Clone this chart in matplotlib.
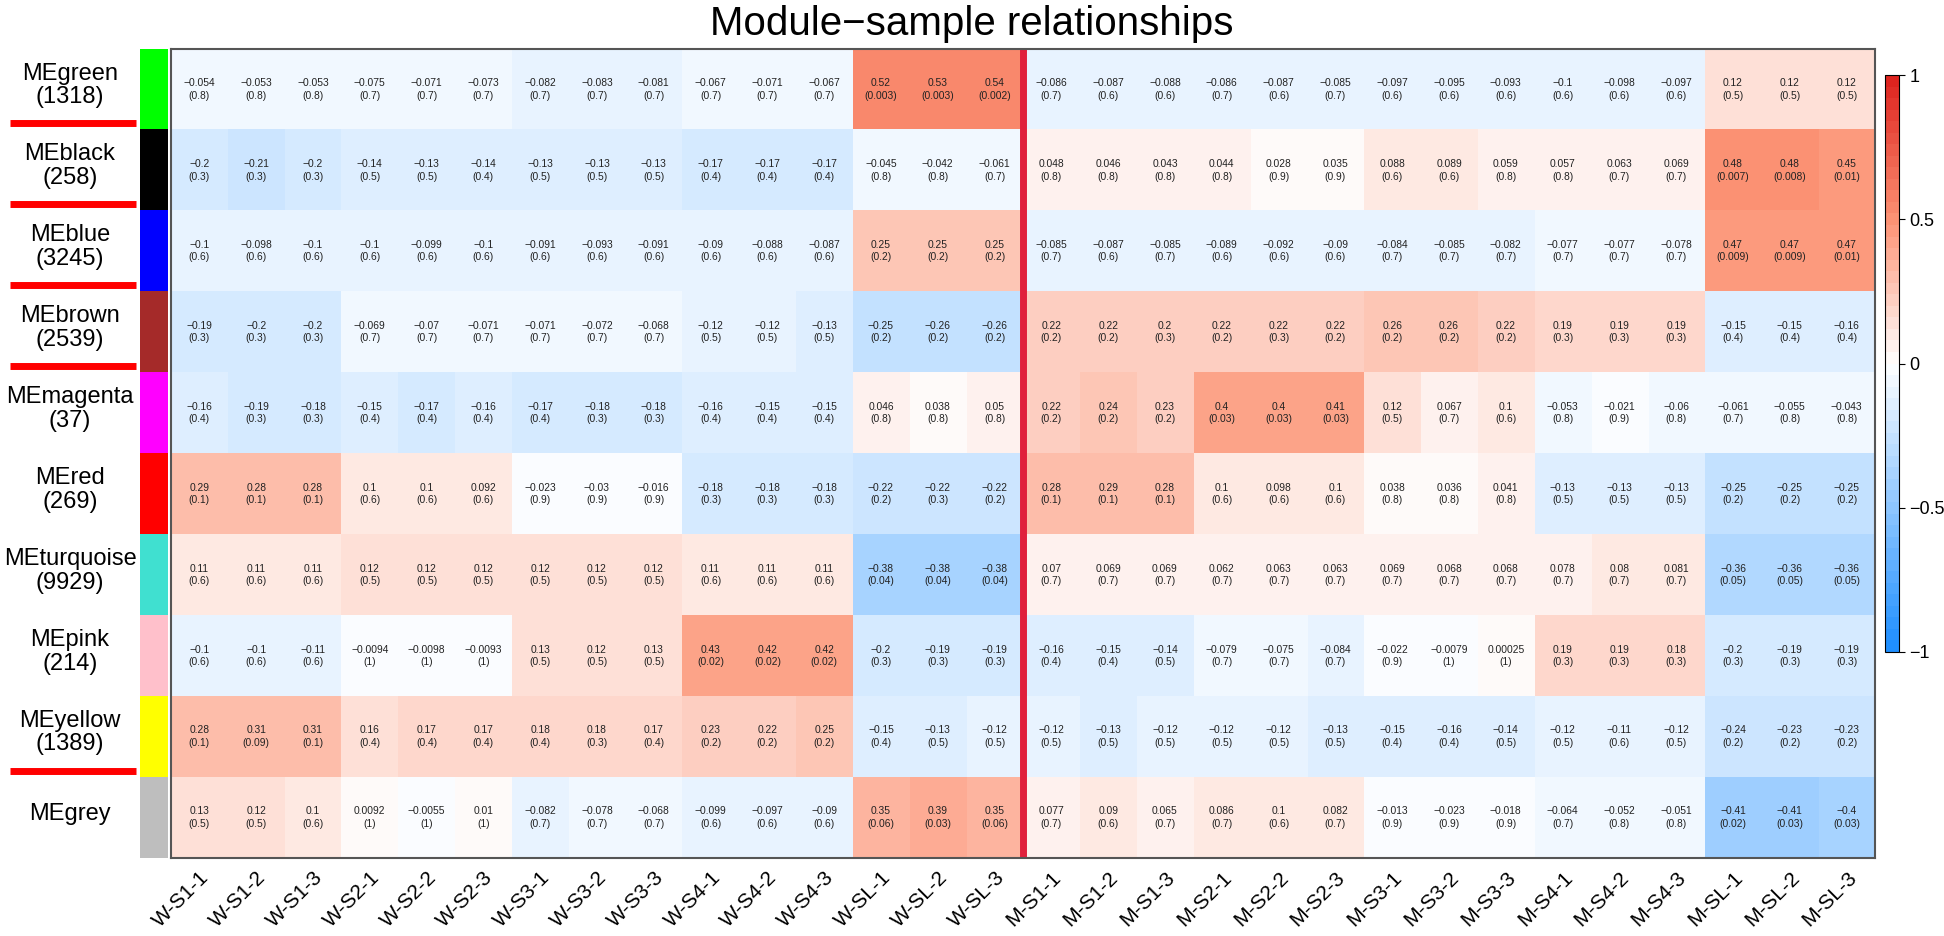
import numpy as np
import matplotlib.pyplot as plt
from matplotlib.colors import LinearSegmentedColormap

plt.rcParams['font.family'] = ['Liberation Sans', 'DejaVu Sans']

# samples (columns)
samples = ["W-S1-1", "W-S1-2", "W-S1-3", "W-S2-1", "W-S2-2", "W-S2-3",
           "W-S3-1", "W-S3-2", "W-S3-3", "W-S4-1", "W-S4-2", "W-S4-3",
           "W-SL-1", "W-SL-2", "W-SL-3", "M-S1-1", "M-S1-2", "M-S1-3",
           "M-S2-1", "M-S2-2", "M-S2-3", "M-S3-1", "M-S3-2", "M-S3-3",
           "M-S4-1", "M-S4-2", "M-S4-3", "M-SL-1", "M-SL-2", "M-SL-3"]

# modules (rows)
modules = ["MEgreen", "MEblack", "MEblue", "MEbrown", "MEmagenta",
           "MEred", "MEturquoise", "MEpink", "MEyellow", "MEgrey"]
module_colors = ["#00FF00", "#000000", "#0000FF", "#A52A2A", "#FF00FF",
                 "#FF0000", "#40E0D0", "#FFC0CB", "#FFFF00", "#BEBEBE"]
module_sizes = ["1318", "258", "3245", "2539", "37", "269", "9929", "214", "1389", ""]
underlined = ["MEgreen", "MEblack", "MEblue", "MEbrown", "MEyellow"]

# correlations and p-values, one list per module
cor_green = [-0.054, -0.053, -0.053, -0.075, -0.071, -0.073, -0.082, -0.083, -0.081, -0.067, -0.071, -0.067,
             0.52, 0.53, 0.54, -0.086, -0.087, -0.088, -0.086, -0.087, -0.085, -0.097, -0.095, -0.093,
             -0.1, -0.098, -0.097, 0.12, 0.12, 0.12]
p_green = [0.8, 0.8, 0.8, 0.7, 0.7, 0.7, 0.7, 0.7, 0.7, 0.7, 0.7, 0.7,
           0.003, 0.003, 0.002, 0.7, 0.6, 0.6, 0.7, 0.6, 0.7, 0.6, 0.6, 0.6,
           0.6, 0.6, 0.6, 0.5, 0.5, 0.5]

cor_black = [-0.2, -0.21, -0.2, -0.14, -0.13, -0.14, -0.13, -0.13, -0.13, -0.17, -0.17, -0.17,
             -0.045, -0.042, -0.061, 0.048, 0.046, 0.043, 0.044, 0.028, 0.035, 0.088, 0.089, 0.059,
             0.057, 0.063, 0.069, 0.48, 0.48, 0.45]
p_black = [0.3, 0.3, 0.3, 0.5, 0.5, 0.4, 0.5, 0.5, 0.5, 0.4, 0.4, 0.4,
           0.8, 0.8, 0.7, 0.8, 0.8, 0.8, 0.8, 0.9, 0.9, 0.6, 0.6, 0.8,
           0.8, 0.7, 0.7, 0.007, 0.008, 0.01]

cor_blue = [-0.1, -0.098, -0.1, -0.1, -0.099, -0.1, -0.091, -0.093, -0.091, -0.09, -0.088, -0.087,
            0.25, 0.25, 0.25, -0.085, -0.087, -0.085, -0.089, -0.092, -0.09, -0.084, -0.085, -0.082,
            -0.077, -0.077, -0.078, 0.47, 0.47, 0.47]
p_blue = [0.6, 0.6, 0.6, 0.6, 0.6, 0.6, 0.6, 0.6, 0.6, 0.6, 0.6, 0.6,
          0.2, 0.2, 0.2, 0.7, 0.6, 0.7, 0.6, 0.6, 0.6, 0.7, 0.7, 0.7,
          0.7, 0.7, 0.7, 0.009, 0.009, 0.01]

cor_brown = [-0.19, -0.2, -0.2, -0.069, -0.07, -0.071, -0.071, -0.072, -0.068, -0.12, -0.12, -0.13,
             -0.25, -0.26, -0.26, 0.22, 0.22, 0.2, 0.22, 0.22, 0.22, 0.26, 0.26, 0.22,
             0.19, 0.19, 0.19, -0.15, -0.15, -0.16]
p_brown = [0.3, 0.3, 0.3, 0.7, 0.7, 0.7, 0.7, 0.7, 0.7, 0.5, 0.5, 0.5,
           0.2, 0.2, 0.2, 0.2, 0.2, 0.3, 0.2, 0.3, 0.2, 0.2, 0.2, 0.2,
           0.3, 0.3, 0.3, 0.4, 0.4, 0.4]

cor_magenta = [-0.16, -0.19, -0.18, -0.15, -0.17, -0.16, -0.17, -0.18, -0.18, -0.16, -0.15, -0.15,
               0.046, 0.038, 0.05, 0.22, 0.24, 0.23, 0.4, 0.4, 0.41, 0.12, 0.067, 0.1,
               -0.053, -0.021, -0.06, -0.061, -0.055, -0.043]
p_magenta = [0.4, 0.3, 0.3, 0.4, 0.4, 0.4, 0.4, 0.3, 0.3, 0.4, 0.4, 0.4,
             0.8, 0.8, 0.8, 0.2, 0.2, 0.2, 0.03, 0.03, 0.03, 0.5, 0.7, 0.6,
             0.8, 0.9, 0.8, 0.7, 0.8, 0.8]

cor_red = [0.29, 0.28, 0.28, 0.1, 0.1, 0.092, -0.023, -0.03, -0.016, -0.18, -0.18, -0.18,
           -0.22, -0.22, -0.22, 0.28, 0.29, 0.28, 0.1, 0.098, 0.1, 0.038, 0.036, 0.041,
           -0.13, -0.13, -0.13, -0.25, -0.25, -0.25]
p_red = [0.1, 0.1, 0.1, 0.6, 0.6, 0.6, 0.9, 0.9, 0.9, 0.3, 0.3, 0.3,
         0.2, 0.3, 0.2, 0.1, 0.1, 0.1, 0.6, 0.6, 0.6, 0.8, 0.8, 0.8,
         0.5, 0.5, 0.5, 0.2, 0.2, 0.2]

cor_turquoise = [0.11, 0.11, 0.11, 0.12, 0.12, 0.12, 0.12, 0.12, 0.12, 0.11, 0.11, 0.11,
                 -0.38, -0.38, -0.38, 0.07, 0.069, 0.069, 0.062, 0.063, 0.063, 0.069, 0.068, 0.068,
                 0.078, 0.08, 0.081, -0.36, -0.36, -0.36]
p_turquoise = [0.6, 0.6, 0.6, 0.5, 0.5, 0.5, 0.5, 0.5, 0.5, 0.6, 0.6, 0.6,
               0.04, 0.04, 0.04, 0.7, 0.7, 0.7, 0.7, 0.7, 0.7, 0.7, 0.7, 0.7,
               0.7, 0.7, 0.7, 0.05, 0.05, 0.05]

cor_pink = [-0.1, -0.1, -0.11, -0.0094, -0.0098, -0.0093, 0.13, 0.12, 0.13, 0.43, 0.42, 0.42,
            -0.2, -0.19, -0.19, -0.16, -0.15, -0.14, -0.079, -0.075, -0.084, -0.022, -0.0079, 0.00025,
            0.19, 0.19, 0.18, -0.2, -0.19, -0.19]
p_pink = [0.6, 0.6, 0.6, 1, 1, 1, 0.5, 0.5, 0.5, 0.02, 0.02, 0.02,
          0.3, 0.3, 0.3, 0.4, 0.4, 0.5, 0.7, 0.7, 0.7, 0.9, 1, 1,
          0.3, 0.3, 0.3, 0.3, 0.3, 0.3]

cor_yellow = [0.28, 0.31, 0.31, 0.16, 0.17, 0.17, 0.18, 0.18, 0.17, 0.23, 0.22, 0.25,
              -0.15, -0.13, -0.12, -0.12, -0.13, -0.12, -0.12, -0.12, -0.13, -0.15, -0.16, -0.14,
              -0.12, -0.11, -0.12, -0.24, -0.23, -0.23]
p_yellow = [0.1, 0.09, 0.1, 0.4, 0.4, 0.4, 0.4, 0.3, 0.4, 0.2, 0.2, 0.2,
            0.4, 0.5, 0.5, 0.5, 0.5, 0.5, 0.5, 0.5, 0.5, 0.4, 0.4, 0.5,
            0.5, 0.6, 0.5, 0.2, 0.2, 0.2]

cor_grey = [0.13, 0.12, 0.1, 0.0092, -0.0055, 0.01, -0.082, -0.078, -0.068, -0.099, -0.097, -0.09,
            0.35, 0.39, 0.35, 0.077, 0.09, 0.065, 0.086, 0.1, 0.082, -0.013, -0.023, -0.018,
            -0.064, -0.052, -0.051, -0.41, -0.41, -0.4]
p_grey = [0.5, 0.5, 0.6, 1, 1, 1, 0.7, 0.7, 0.7, 0.6, 0.6, 0.6,
          0.06, 0.03, 0.06, 0.7, 0.6, 0.7, 0.7, 0.6, 0.7, 0.9, 0.9, 0.9,
          0.7, 0.8, 0.8, 0.02, 0.03, 0.03]

cor = np.array([cor_green, cor_black, cor_blue, cor_brown, cor_magenta,
                cor_red, cor_turquoise, cor_pink, cor_yellow, cor_grey])
pval = np.array([p_green, p_black, p_blue, p_brown, p_magenta,
                 p_red, p_turquoise, p_pink, p_yellow, p_grey])


def fmt(v):
    return format(v, ".2g").replace("-", "\u2212")


# blue - white - red scale
cmap = LinearSegmentedColormap.from_list(
    "bwr_mod",
    [(0.0, (0.12, 0.56, 1.0)), (0.5, (1.0, 1.0, 1.0)),
     (0.75, (0.99, 0.58, 0.46)), (1.0, (0.87, 0.14, 0.12))], N=50)

W, H = 1944, 936
fig = plt.figure(figsize=(W / 100, H / 100), dpi=100)

hm_left, hm_right, hm_top, hm_bottom = 171, 1875, 49, 858
ax = fig.add_axes([hm_left / W, 1 - hm_bottom / H,
                   (hm_right - hm_left) / W, (hm_bottom - hm_top) / H])
im = ax.imshow(cor, cmap=cmap, vmin=-1, vmax=1, aspect="auto", interpolation="nearest")

nrow, ncol = cor.shape
for i in range(nrow):
    for j in range(ncol):
        ax.text(j, i, fmt(cor[i, j]) + "\n(" + fmt(pval[i, j]) + ")",
                ha="center", va="center", fontsize=7.4, linespacing=1.3, color="#222222")

ax.set_xticks(range(ncol))
ax.set_xticklabels(samples, rotation=45, ha="right", rotation_mode="anchor", fontsize=15)
ax.tick_params(axis="x", length=0, pad=7)
ax.set_yticks([])
for s in ax.spines.values():
    s.set_color("#555555")
    s.set_linewidth(1.5)

# separator between W and M samples
ax.axvline(ncol / 2 - 0.5, color="#E0203C", lw=5)

fig.text(0.5, 1 - 24 / H, "Module\u2212sample relationships", fontsize=29,
         ha="center", va="center")

# module colour strip
strip = fig.add_axes([140 / W, 1 - hm_bottom / H, 28 / W, (hm_bottom - hm_top) / H])
strip.imshow(np.arange(nrow).reshape(-1, 1),
             cmap=LinearSegmentedColormap.from_list("mods", module_colors, N=nrow),
             aspect="auto", interpolation="nearest")
strip.axis("off")

# module labels
lab = fig.add_axes([0, 1 - hm_bottom / H, 140 / W, (hm_bottom - hm_top) / H])
lab.set_xlim(0, 1)
lab.set_ylim(nrow - 0.5, -0.5)
lab.axis("off")
for i, m in enumerate(modules):
    txt = m if module_sizes[i] == "" else m + "\n(" + module_sizes[i] + ")"
    lab.text(0.5, i - 0.05, txt, ha="center", va="center", fontsize=17, linespacing=1.1)
    if m in underlined:
        lab.plot([0.07, 0.97], [i + 0.42, i + 0.42], color="#FF0000", lw=5, solid_capstyle="butt")

# colour bar
cax = fig.add_axes([1885 / W, 1 - 652 / H, 14 / W, (652 - 75) / H])
cb = fig.colorbar(im, cax=cax, ticks=[-1, -0.5, 0, 0.5, 1])
cb.ax.set_yticklabels(["\u22121", "\u22120.5", "0", "0.5", "1"])
cb.ax.tick_params(labelsize=13, length=4)
cb.outline.set_linewidth(0.8)

fig.savefig("out.png", dpi=100)
